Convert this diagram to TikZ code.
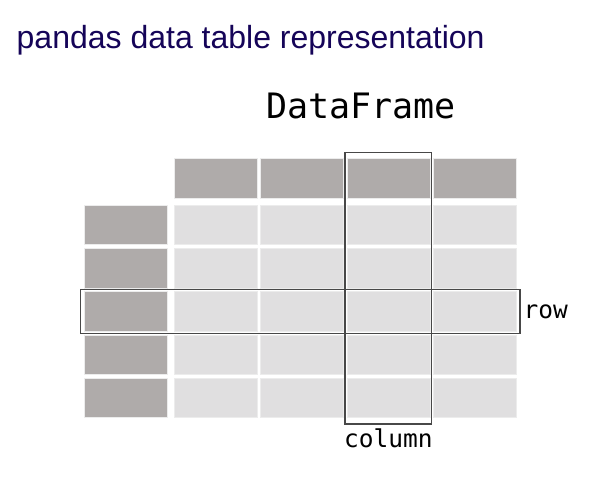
\documentclass[tikz,border=0pt]{standalone}
\usepackage{fontspec}
\setmainfont{Liberation Sans}
\newfontfamily\monofont{DejaVu Sans Mono}
\definecolor{pdnavy}{HTML}{150458}
\definecolor{headgray}{RGB}{175,171,170}
\definecolor{datagray}{RGB}{224,223,224}
\definecolor{cellrim}{RGB}{236,236,236}
\definecolor{boxgray}{RGB}{72,72,72}
\begin{document}
\begin{tikzpicture}[x=1pt,y=-1pt,
  cellbase/.style={draw=cellrim, line width=0.8pt, minimum width=83pt,
    minimum height=39.5pt, anchor=north west, inner sep=0pt, outer sep=0pt},
  headcell/.style={cellbase, fill=headgray, minimum height=40pt},
  idxcell/.style={cellbase, fill=headgray, minimum width=83.3pt},
  datacell/.style={cellbase, fill=datagray},
  selbox/.style={draw=boxgray, line width=1.3pt, inner sep=0pt,
    outer sep=0pt, anchor=north west},
  monolabel/.style={font=\monofont\fontsize{24.5}{28}\selectfont,
    inner sep=0pt, text=black}]
\useasboundingbox (0,0) rectangle (601,479);

% heading
\node[anchor=base west, inner sep=0pt, text=pdnavy,
  font=\fontsize{32}{36}\selectfont] (title) at (16.5,48.5)
  {pandas data table representation};
\node[anchor=base, inner sep=0pt, font=\monofont\fontsize{35}{40}\selectfont]
  (dfname) at (360.9,118.3) {DataFrame};

% index column
\foreach \y [count=\r] in {205.3,248.5,291.7,334.9,378.1}
  \node[idxcell] (i\r) at (84,\y) {};

% column headers and data cells
\foreach \x [count=\c] in {174,260.6,347,433.3} {
  \node[headcell] (h\c) at (\x,158.3) {};
  \foreach \y [count=\r] in {205.3,248.5,291.7,334.9,378.1}
    \node[datacell] (d\r-\c) at (\x,\y) {};
}

% highlighted column and row
\node[selbox, minimum width=86.7pt, minimum height=271.7pt] (colbox)
  at (345,152.3) {};
\node[selbox, minimum width=439.7pt, minimum height=44pt] (rowbox)
  at (80.3,289.3) {};

% labels
\node[monolabel, anchor=base west] (rowlbl) at (523.5,318) {row};
\node[monolabel, anchor=base] (collbl) at (388.3,447.3) {column};
\end{tikzpicture}
\end{document}
